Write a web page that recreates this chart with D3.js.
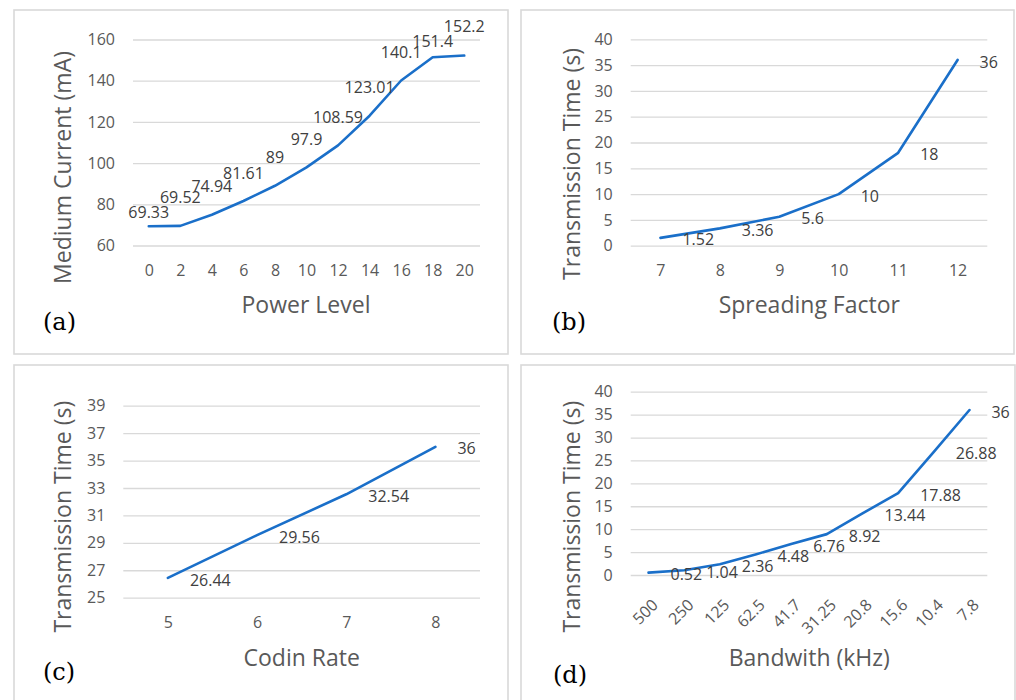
<!DOCTYPE html>
<html>
<head>
<meta charset="utf-8">
<script src="https://cdn.jsdelivr.net/npm/d3@7"></script>
<style>
  html, body { margin: 0; padding: 0; background: #ffffff; }
  svg { display: block; }
</style>
</head>
<body>
<svg id="chart" width="1016" height="700"></svg>
<script>
// ---------- DATA ----------
const powerLevels = ["0", "2", "4", "6", "8", "10", "12", "14", "16", "18", "20"];
const mediumCurrent = [69.33, 69.52, 74.94, 81.61, 89, 97.9, 108.59, 123.01, 140.1, 151.4, 152.2];
const currentTicks = [60, 80, 100, 120, 140, 160];

const spreadingFactors = ["7", "8", "9", "10", "11", "12"];
const sfTime = [1.52, 3.36, 5.6, 10, 18, 36];
const sfTicks = [0, 5, 10, 15, 20, 25, 30, 35, 40];

const codingRates = ["5", "6", "7", "8"];
const crTime = [26.44, 29.56, 32.54, 36];
const crTicks = [25, 27, 29, 31, 33, 35, 37, 39];

const bandwidths = ["500", "250", "125", "62.5", "41.7", "31.25", "20.8", "15.6", "10.4", "7.8"];
const bwTime = [0.52, 1.04, 2.36, 4.48, 6.76, 8.92, 13.44, 17.88, 26.88, 36];
const bwTicks = [0, 5, 10, 15, 20, 25, 30, 35, 40];

// ---------- LAYOUT (positions / styles, not data) ----------
const powerLabelLift = [-14, -28, -28, -28, -28, -28, -28, -28, -28, -16, -29];

const FONT = "'Open Sans', 'Noto Sans', sans-serif";
const TICK_COLOR = "#595959";
const LABEL_COLOR = "#404040";
const GRID_COLOR = "#d9d9d9";
const LINE_COLOR = "#1a6fc9";

const panels = [
  {
    frame: [14, 10, 494, 344],
    plot: { l: 133, r: 480, t: 39.5, b: 245.5 },
    cats: powerLevels, vals: mediumCurrent, ticks: currentTicks,
    yTitle: "Medium Current (mA)", yTitlePos: [63.3, 167.5],
    xTitle: "Power Level", xTitlePos: [306, 305],
    tag: "(a)", tagPos: [59.5, 322],
    labelMode: "above", rotate: false
  },
  {
    frame: [521, 10, 493, 344],
    plot: { l: 630.7, r: 987.3, t: 39.3, b: 245.7 },
    cats: spreadingFactors, vals: sfTime, ticks: sfTicks,
    yTitle: "Transmission Time (s)", yTitlePos: [571.7, 164],
    xTitle: "Spreading Factor", xTitlePos: [809.3, 305],
    tag: "(b)", tagPos: [569, 322],
    labelMode: "right", rotate: false
  },
  {
    frame: [14, 365, 494, 400],
    plot: { l: 123.3, r: 480, t: 405.7, b: 597.7 },
    cats: codingRates, vals: crTime, ticks: crTicks,
    yTitle: "Transmission Time (s)", yTitlePos: [63.3, 516.7],
    xTitle: "Codin Rate", xTitlePos: [301.7, 658.3],
    tag: "(c)", tagPos: [59, 671.7],
    labelMode: "right", rotate: false
  },
  {
    frame: [521, 365, 494, 400],
    plot: { l: 630.7, r: 987.3, t: 391.7, b: 575 },
    cats: bandwidths, vals: bwTime, ticks: bwTicks,
    yTitle: "Transmission Time (s)", yTitlePos: [571.7, 516.7],
    xTitle: "Bandwith (kHz)", xTitlePos: [809.3, 658.3],
    tag: "(d)", tagPos: [570, 675],
    labelMode: "right", rotate: true
  }
];

const svg = d3.select("#chart");

panels.forEach((p) => {
  const g = svg.append("g");

  // frame
  g.append("rect")
    .attr("x", p.frame[0]).attr("y", p.frame[1])
    .attr("width", p.frame[2]).attr("height", p.frame[3])
    .attr("fill", "#ffffff")
    .attr("stroke", GRID_COLOR).attr("stroke-width", 1.6);

  const x = d3.scalePoint().domain(p.cats).range([p.plot.l, p.plot.r]).padding(0.5);
  const y = d3.scaleLinear()
    .domain([p.ticks[0], p.ticks[p.ticks.length - 1]])
    .range([p.plot.b, p.plot.t]);

  // gridlines via axis
  const grid = g.append("g")
    .attr("transform", `translate(${p.plot.l},0)`)
    .call(d3.axisLeft(y).tickValues(p.ticks).tickSize(-(p.plot.r - p.plot.l)).tickFormat(""));
  grid.select(".domain").remove();
  grid.selectAll(".tick line").attr("stroke", GRID_COLOR).attr("stroke-width", 1.3);

  // y tick labels
  const yAx = g.append("g")
    .attr("transform", `translate(${p.plot.l - 18},0)`)
    .call(d3.axisLeft(y).tickValues(p.ticks).tickSize(0).tickPadding(0).tickFormat(d3.format("d")));
  yAx.select(".domain").remove();
  yAx.selectAll("text")
    .attr("font-family", FONT).attr("font-size", 16).attr("fill", TICK_COLOR);

  // x tick labels
  const xAx = g.append("g")
    .attr("transform", `translate(0,${p.plot.b})`)
    .call(d3.axisBottom(x).tickSize(0).tickPadding(0));
  xAx.select(".domain").remove();
  if (p.rotate) {
    xAx.selectAll("text")
      .attr("font-family", FONT).attr("font-size", 16).attr("fill", TICK_COLOR)
      .attr("text-anchor", "end")
      .attr("y", 0)
      .attr("dy", null)
      .attr("transform", "translate(10,31) rotate(-45)");
  } else {
    xAx.selectAll("text")
      .attr("font-family", FONT).attr("font-size", 16).attr("fill", TICK_COLOR)
      .attr("y", 25).attr("dy", "0.35em");
  }

  // line
  const line = d3.line().x((d, i) => x(p.cats[i])).y(d => y(d));
  g.append("path")
    .datum(p.vals)
    .attr("d", line)
    .attr("fill", "none")
    .attr("stroke", LINE_COLOR)
    .attr("stroke-width", 2.6)
    .attr("stroke-linejoin", "round")
    .attr("stroke-linecap", "round");

  // data labels
  const lbl = g.append("g").selectAll("text")
    .data(p.vals).join("text")
    .attr("font-family", FONT).attr("font-size", 16).attr("fill", LABEL_COLOR)
    .attr("dy", "0.35em")
    .text(d => String(d));
  if (p.labelMode === "above") {
    lbl.attr("x", (d, i) => x(p.cats[i]))
       .attr("y", (d, i) => y(d) + powerLabelLift[i])
       .attr("text-anchor", "middle");
  } else {
    lbl.attr("x", (d, i) => x(p.cats[i]) + 22)
       .attr("y", d => y(d) + 2)
       .attr("text-anchor", "start");
  }

  // axis titles
  g.append("text")
    .attr("transform", `translate(${p.yTitlePos[0]},${p.yTitlePos[1]}) rotate(-90)`)
    .attr("text-anchor", "middle").attr("dy", "0.35em")
    .attr("font-family", FONT).attr("font-size", 23).attr("fill", TICK_COLOR)
    .text(p.yTitle);
  g.append("text")
    .attr("x", p.xTitlePos[0]).attr("y", p.xTitlePos[1])
    .attr("text-anchor", "middle").attr("dy", "0.35em")
    .attr("font-family", FONT).attr("font-size", 23).attr("fill", TICK_COLOR)
    .text(p.xTitle);

  // panel tag
  g.append("text")
    .attr("x", p.tagPos[0]).attr("y", p.tagPos[1])
    .attr("text-anchor", "middle").attr("dy", "0.35em")
    .attr("font-family", "'DejaVu Serif', 'Liberation Serif', serif")
    .attr("font-size", 24).attr("fill", "#000000")
    .text(p.tag);
});
</script>
</body>
</html>
